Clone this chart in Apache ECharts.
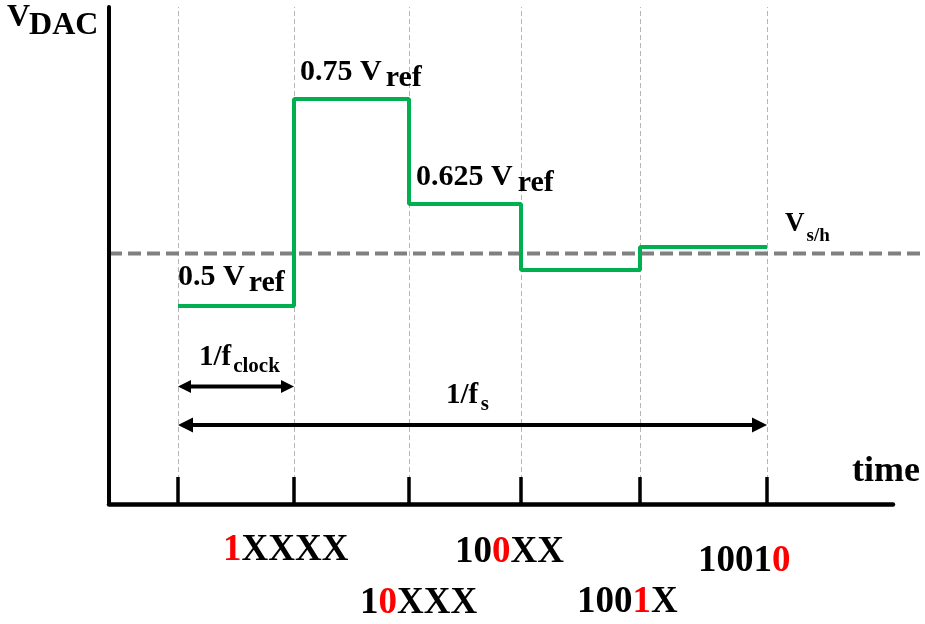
<!DOCTYPE html>
<html><head><meta charset="utf-8">
<script src="https://cdn.jsdelivr.net/npm/echarts@6/dist/echarts.min.js"></script>
<style>html,body{margin:0;padding:0;background:#fff}#c{width:925px;height:624px}</style>
</head><body><div id="c"></div>
<script>
// ---- data ----
const clockTimes = [69, 185, 300, 412, 531, 658];   // clock edges on the time axis
const dacLevels = [198, 405, 300, 234, 257];        // DAC output held during each clock period
const vshLevel = 250.5;                             // sampled input V s/h
const vshStart = 0, vshEnd = 811;
const clockArrowY = 117.5;                           // 1/f_clock arrow level
const sampleArrowY = 79;                             // 1/f_s arrow level
const xMax = 784, yMax = 497;
const levelTexts = ['0.5 V', '0.75 V', '0.625 V'];
const levelSub = 'ref';
const codePrefix = ['', '1', '10', '100', '1001'];
const codeBit = ['1', '0', '0', '1', '0'];
const codeSuffix = ['XXXX', 'XXX', 'XX', 'X', ''];
const yName = ['V', 'DAC'];
const xName = 'time';
const vshText = ['V', 's/h'];
const clockText = ['1/f', 'clock'];
const sampleText = ['1/f', 's'];

// ---- build ----
const stepData = clockTimes.map((t, i) => [t, dacLevels[Math.min(i, dacLevels.length - 1)]]);
const FONT = '"Liberation Serif","Times New Roman",serif';
const mctx = document.createElement('canvas').getContext('2d');
function measure(t, size) { mctx.font = 'bold ' + size + 'px ' + FONT; return mctx.measureText(t).width; }

// notes: anchor (data), offset of first baseline (px), segments [text, size, color, dy, gapBefore]
const notes = [
  { a: [0, yMax], dx: -102, dy: 21, s: [[yName[0], 32, '#000', 0, 0], [yName[1], 32, '#000', 8, -1]] },
  { a: [xMax, 0], dx: -41, dy: -21, s: [[xName, 36, '#000', 0, 0]] },
  { a: [clockTimes[0], dacLevels[0]], dx: 0, dy: -19, s: [[levelTexts[0], 30, '#000', 0, 0], [levelSub, 30, '#000', 6, 4]] },
  { a: [clockTimes[1], dacLevels[1]], dx: 6, dy: -17, s: [[levelTexts[1], 30, '#000', 0, 0], [levelSub, 30, '#000', 6, 4]] },
  { a: [clockTimes[2], dacLevels[2]], dx: 7, dy: -17, s: [[levelTexts[2], 30, '#000', 0, 0], [levelSub, 30, '#000', 6, 5]] },
  { a: [clockTimes[5], vshLevel], dx: 18, dy: -20.5, s: [[vshText[0], 27, '#000', 0, 0], [vshText[1], 19, '#000', 9, 2]] },
  { a: [clockTimes[0], clockArrowY], dx: 21, dy: -19.5, s: [[clockText[0], 29, '#000', 0, 0], [clockText[1], 21, '#000', 6, 2]] },
  { a: [clockTimes[0], sampleArrowY], dx: 268, dy: -20, s: [[sampleText[0], 29, '#000', 0, 0], [sampleText[1], 21, '#000', 6, 2.5]] }
];
const codeOffsets = [[-71, 58], [-49, 111], [-66, 60], [-63, 110], [-69, 69]];
codeBit.forEach((b, i) => {
  notes.push({ a: [clockTimes[i + 1], 0], dx: codeOffsets[i][0], dy: codeOffsets[i][1],
    s: [[codePrefix[i], 37, '#000', 0, 0], [b, 37, '#ff0000', 0, 0], [codeSuffix[i], 37, '#000', 0, 0]] });
});

function renderNote(params, api) {
  const n = notes[params.dataIndex];
  const p = api.coord([api.value(0), api.value(1)]);
  let x = p[0] + n.dx;
  const base = p[1] + n.dy;
  const children = [];
  n.s.forEach(seg => {
    const [t, size, color, dy, gap] = seg;
    x += gap;
    if (t) {
      const font = 'bold ' + size + 'px ' + FONT;
      children.push({ type: 'text', x: x, y: base + dy - 0.32 * size,
        style: { text: t, font: font, fill: color, align: 'left', verticalAlign: 'middle', textAlign: 'left', textVerticalAlign: 'middle' } });
      x += measure(t, size);
    }
  });
  return { type: 'group', children: children };
}

const arrows = [[clockTimes[0], clockTimes[1], clockArrowY], [clockTimes[0], clockTimes[5], sampleArrowY]];
function renderArrow(params, api) {
  const p1 = api.coord([api.value(0), api.value(2)]);
  const p2 = api.coord([api.value(1), api.value(2)]);
  const L = params.dataIndex === 0 ? 13 : 15, H = params.dataIndex === 0 ? 6.5 : 7.5;
  const y = p1[1];
  return { type: 'group', children: [
    { type: 'line', shape: { x1: p1[0] + L - 1, y1: y, x2: p2[0] - L + 1, y2: y }, style: { stroke: '#000', lineWidth: 4 } },
    { type: 'polygon', shape: { points: [[p1[0], y], [p1[0] + L, y - H], [p1[0] + L, y + H]] }, style: { fill: '#000' } },
    { type: 'polygon', shape: { points: [[p2[0], y], [p2[0] - L, y - H], [p2[0] - L, y + H]] }, style: { fill: '#000' } }
  ] };
}

function renderVsh(params, api) {
  const p1 = api.coord([api.value(0), api.value(2)]);
  const p2 = api.coord([api.value(1), api.value(2)]);
  return { type: 'line', shape: { x1: p1[0], y1: p1[1], x2: p2[0], y2: p2[1] },
    style: { stroke: '#808080', lineWidth: 4, lineDash: [13, 6] } };
}

const chart = echarts.init(document.getElementById('c'), null, { renderer: 'canvas' });
chart.setOption({
  animation: false,
  backgroundColor: '#fff',
  grid: { left: 109, right: 32, top: 7, bottom: 120, containLabel: false },
  xAxis: { type: 'value', min: 0, max: xMax, z: 6,
    axisLine: { show: true, lineStyle: { color: '#000', width: 4.5 } },
    axisTick: { show: true, inside: true, length: 27, customValues: clockTimes, lineStyle: { color: '#000', width: 3.5 } },
    axisLabel: { show: false }, splitLine: { show: false } },
  yAxis: { type: 'value', min: 0, max: yMax, z: 6,
    axisLine: { show: true, lineStyle: { color: '#000', width: 4 } },
    axisTick: { show: false }, axisLabel: { show: false }, splitLine: { show: false } },
  series: [
    { name: 'grid', type: 'line', data: [], z: 1,
      markLine: { silent: true, symbol: 'none', z: 1, label: { show: false },
        lineStyle: { color: '#b5b5b5', width: 1, type: [5, 3] },
        data: clockTimes.map(t => ({ xAxis: t })) } },
    { name: 'Vsh', type: 'custom', z: 3, renderItem: renderVsh, data: [[vshStart, vshEnd, vshLevel]] },
    { name: 'DAC', type: 'line', step: 'end', symbol: 'none', z: 10,
      lineStyle: { color: '#00b050', width: 4 }, data: stepData },
    { name: 'arrows', type: 'custom', z: 10, renderItem: renderArrow, data: arrows },
    { name: 'notes', type: 'custom', z: 11, renderItem: renderNote, data: notes.map(n => n.a) }
  ]
});
</script>
</body></html>
